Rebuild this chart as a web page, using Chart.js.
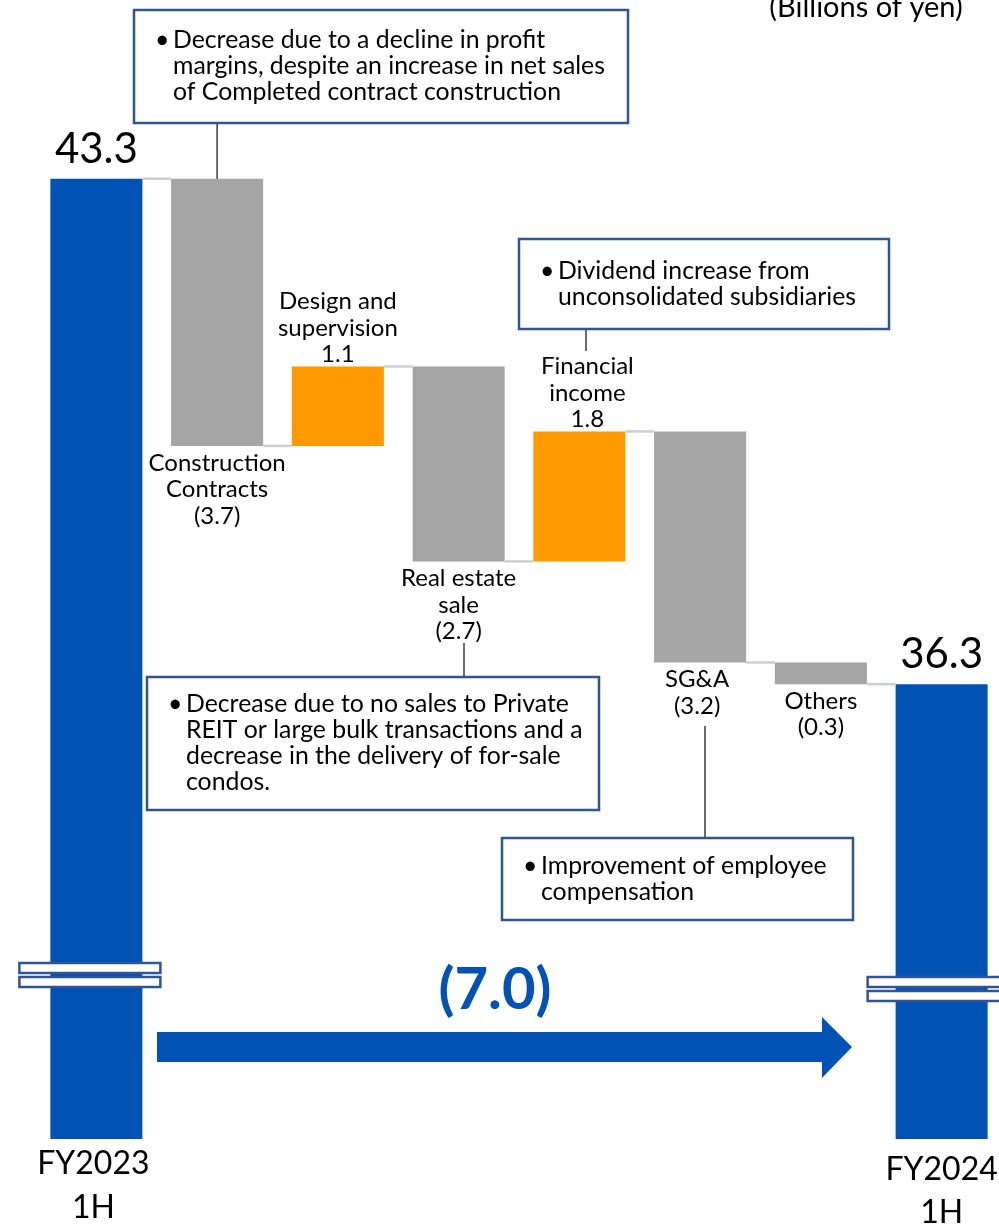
<!DOCTYPE html>
<html lang="en">
<head>
<meta charset="utf-8">
<title>Profit bridge FY2023 1H - FY2024 1H</title>
<script src="https://cdn.jsdelivr.net/npm/chart.js@4.4.1/dist/chart.umd.min.js"></script>
<style>
  html, body { margin: 0; padding: 0; background: #fff; overflow: hidden; }
  #wrap { position: relative; width: 1002px; height: 1226px; }
</style>
</head>
<body>
<div id="wrap"><canvas id="bridgeChart"></canvas></div>
<script>
// Values in billions of yen
const categories = ["FY2023 1H", "Construction Contracts", "Design and supervision", "Real estate sale",
  "Financial income", "SG&A", "Others", "FY2024 1H"];
const categoryLines = [["FY2023", "1H"], ["Construction", "Contracts"], ["Design and", "supervision"],
  ["Real estate", "sale"], ["Financial", "income"], ["SG&A"], ["Others"], ["FY2024", "1H"]];
const startValue = 43.3;
const endValue = 36.3;
const stepValues = [-3.7, 1.1, -2.7, 1.8, -3.2, -0.3];
const totalChange = -7.0;
const axisMin = 30;
const axisMax = 45;
const unitLabel = "(Billions of yen)";

// callout notes
const noteConstruction = ["Decrease due to a decline in profit", "margins, despite an increase in net sales", "of Completed contract construction"];
const noteFinancial = ["Dividend increase from", "unconsolidated subsidiaries"];
const noteRealEstate = ["Decrease due to no sales to Private", "REIT or large bulk transactions and a", "decrease in the delivery of for-sale", "condos."];
const noteSGA = ["Improvement of employee", "compensation"];

const BLUE = "#0052B4";
const GRAY = "#A5A5A5";
const ORANGE = "#FF9900";
const FONT = "Lato, 'Open Sans', sans-serif";

document.addEventListener("DOMContentLoaded", function() {
  var canvas = document.getElementById("bridgeChart");
  var ctx = canvas.getContext("2d");

  // running level after each step
  var levels = [startValue];
  stepValues.forEach(function(v) {
    levels.push(Math.round((levels[levels.length - 1] + v) * 10) / 10);
  });

  var barData = [[axisMin, startValue]];
  var barColors = [BLUE];
  stepValues.forEach(function(v, i) {
    var a = levels[i], b = levels[i + 1];
    barData.push([Math.min(a, b), Math.max(a, b)]);
    barColors.push(v < 0 ? GRAY : ORANGE);
  });
  barData.push([axisMin, endValue]);
  barColors.push(BLUE);

  function fmt(v) {
    return v < 0 ? "(" + Math.abs(v).toFixed(1) + ")" : v.toFixed(1);
  }

  function drawNote(c, box, lines, line) {
    // connector first so the box covers its end
    c.save();
    c.strokeStyle = "#3a3a3a";
    c.lineWidth = 1.5;
    c.beginPath();
    c.moveTo(line.x, line.y1);
    c.lineTo(line.x, line.y2);
    c.stroke();

    c.fillStyle = "#fff";
    c.fillRect(box.x, box.y, box.w, box.h);
    c.strokeStyle = "#2F5597";
    c.lineWidth = 2.5;
    c.strokeRect(box.x, box.y, box.w, box.h);

    c.fillStyle = "#000";
    c.font = "24.8px " + FONT;
    c.textBaseline = "middle";
    c.textAlign = "left";
    var lh = 26;
    var y0 = box.y + box.h / 2 - (lines.length - 1) * lh / 2;
    c.fillText("\u2022", box.x + 21, y0);
    lines.forEach(function(t, i) {
      c.fillText(t, box.x + 39, y0 + i * lh);
    });
    c.restore();
  }

  var bridgeDecor = {
    id: "bridgeDecor",
    afterDatasetsDraw: function(chart) {
      var c = chart.ctx;
      var x = chart.scales.x;
      var y = chart.scales.y;
      var bars = chart.getDatasetMeta(0).data;
      var area = chart.chartArea;
      var last = bars.length - 1;

      // thin connectors between neighbouring bars
      c.save();
      c.strokeStyle = "#CFCFCF";
      c.lineWidth = 2.5;
      for (var i = 0; i < last; i++) {
        var lvl = i < levels.length ? levels[i] : endValue;
        var py = y.getPixelForValue(lvl);
        c.beginPath();
        c.moveTo(bars[i].x + bars[i].width / 2, py);
        c.lineTo(bars[i + 1].x - bars[i + 1].width / 2, py);
        c.stroke();
      }
      c.restore();

      // step labels
      c.save();
      c.fillStyle = "#000";
      c.textAlign = "center";
      c.textBaseline = "middle";
      c.font = "24px " + FONT;
      var lh = 26.5;
      var nudge = { 4: 8, 5: -3 };
      stepValues.forEach(function(v, k) {
        var i = k + 1;
        var lines = categoryLines[i].concat([fmt(v)]);
        var cx = x.getPixelForValue(i) + (nudge[i] || 0);
        if (v < 0) {
          var bottom = y.getPixelForValue(Math.min(levels[k], levels[k + 1]));
          lines.forEach(function(t, n) { c.fillText(t, cx, bottom + 17 + n * lh); });
        } else {
          var top = y.getPixelForValue(Math.max(levels[k], levels[k + 1]));
          lines.forEach(function(t, n) { c.fillText(t, cx, top - 12 - (lines.length - 1 - n) * lh); });
        }
      });

      // totals: value above, period below
      c.font = "42px " + FONT;
      c.textBaseline = "alphabetic";
      [[0, startValue], [last, endValue]].forEach(function(p) {
        c.fillText(p[1].toFixed(1), x.getPixelForValue(p[0]), y.getPixelForValue(p[1]) - 16);
      });
      c.font = "32px " + FONT;
      c.textBaseline = "middle";
      c.fillText(categoryLines[0][0], x.getPixelForValue(0) - 3, area.bottom + 25);
      c.fillText(categoryLines[0][1], x.getPixelForValue(0) - 3, area.bottom + 69);
      c.fillText(categoryLines[last][0], x.getPixelForValue(last), area.bottom + 31);
      c.fillText(categoryLines[last][1], x.getPixelForValue(last), area.bottom + 74);

      // unit
      c.font = "29px " + FONT;
      c.textBaseline = "alphabetic";
      c.fillText(unitLabel, 866, 17);
      c.restore();

      // axis break marks on the total bars
      c.save();
      c.fillStyle = "#fff";
      c.strokeStyle = "#2F5597";
      c.lineWidth = 2.5;
      [[bars[0].x - 77, 963], [bars[last].x - 74, 977]].forEach(function(m) {
        c.fillRect(m[0], m[1], 141, 10);
        c.strokeRect(m[0], m[1], 141, 10);
        c.fillRect(m[0], m[1] + 14, 141, 10);
        c.strokeRect(m[0], m[1] + 14, 141, 10);
      });
      c.restore();

      // overall change arrow
      c.save();
      c.fillStyle = BLUE;
      c.beginPath();
      c.moveTo(157, 1032);
      c.lineTo(822, 1032);
      c.lineTo(822, 1017);
      c.lineTo(852, 1047);
      c.lineTo(822, 1078);
      c.lineTo(822, 1062);
      c.lineTo(157, 1062);
      c.closePath();
      c.fill();
      c.font = "bold 58px " + FONT;
      c.textAlign = "center";
      c.textBaseline = "alphabetic";
      c.fillText(fmt(totalChange), 495, 1009);
      c.restore();

      // callouts
      drawNote(c, { x: 134, y: 10, w: 494, h: 113 }, noteConstruction,
        { x: x.getPixelForValue(1), y1: 123, y2: y.getPixelForValue(levels[0]) });
      drawNote(c, { x: 519, y: 239, w: 370, h: 90 }, noteFinancial,
        { x: 586, y1: 329, y2: 351 });
      drawNote(c, { x: 147, y: 677, w: 452, h: 133 }, noteRealEstate,
        { x: 464, y1: 643, y2: 677 });
      drawNote(c, { x: 502, y: 838, w: 351, h: 82 }, noteSGA,
        { x: 705, y1: 726, y2: 838 });
    }
  };

  new Chart(ctx, {
    type: "bar",
    data: {
      labels: categories,
      datasets: [{
        data: barData,
        backgroundColor: barColors,
        borderWidth: 0,
        barPercentage: 0.762,
        categoryPercentage: 1
      }]
    },
    options: {
      responsive: true,
      maintainAspectRatio: false,
      animation: false,
      layout: { padding: { left: 36, right: 0, top: 56, bottom: 87 } },
      scales: {
        x: { display: false },
        y: { display: false, min: axisMin, max: axisMax }
      },
      plugins: {
        legend: { display: false },
        tooltip: { enabled: false }
      }
    },
    plugins: [bridgeDecor]
  });
});
</script>
</body>
</html>
